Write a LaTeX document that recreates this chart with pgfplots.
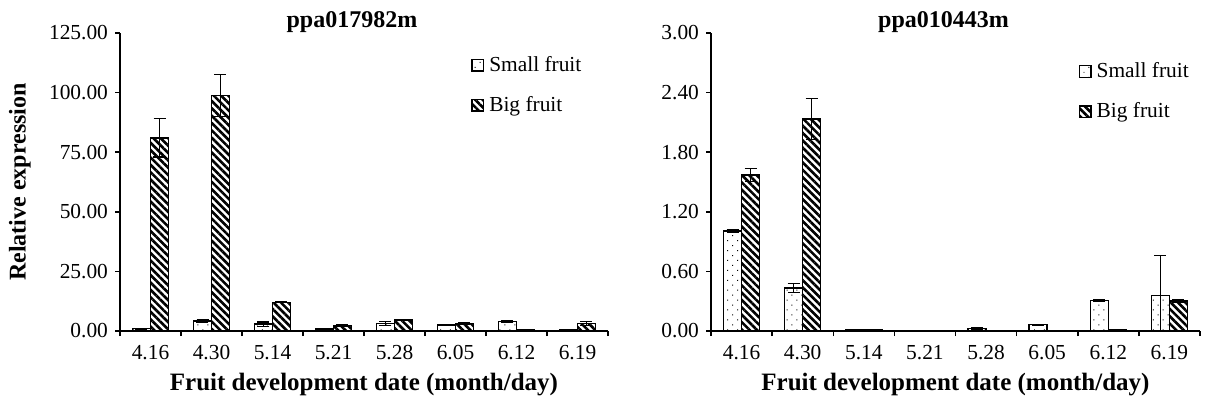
\documentclass[border=0pt]{standalone}
\usepackage{fontspec}
\setmainfont{Liberation Serif}
\usepackage{pgfplots}
\usepackage{pgfplotstable}
\pgfplotsset{compat=1.18}
\usetikzlibrary{patterns.meta}

\pgfplotstableread{
x small smallerr big bigerr
0 1.0 0.2 81.0 8.0
1 4.2 0.5 98.8 8.8
2 2.9 0.85 12.0 0.2
3 0.8 0.2 2.4 0.3
4 3.1 0.85 4.6 0.3
5 2.6 0.2 3.1 0.4
6 4.0 0.4 0.4 0.1
7 0.4 0.1 3.2 0.85
}\leftdata

\pgfplotstableread{
x small smallerr big bigerr
0 1.006 0.01 1.571 0.065
1 0.434 0.047 2.133 0.205
2 0.012 0.002 0.012 0.002
3 0.003 0.001 0.003 0.001
4 0.025 0.005 0.003 0.001
5 0.064 0.005 0.003 0.001
6 0.306 0.01 0.013 0.003
7 0.357 0.40 0.300 0.015
}\rightdata

\pgfplotsset{
  myaxis/.style={
    scale only axis, height=149pt,
    axis lines*=left,
    xmin=-0.5, xmax=7.5, ymin=0,
    xtick={0,...,7},
    xticklabels={4.16,4.30,5.14,5.21,5.28,6.05,6.12,6.19},
    major x tick style={draw=none},
    minor xtick={-0.5,0.5,...,7.5},
    tick align=outside,
    major tick length=2.5pt, minor tick length=2.5pt,
    every tick/.style={black, line width=0.75pt},
    axis line style={black, line width=0.75pt},
    /pgf/number format/assume math mode=true,
    yticklabel style={/pgf/number format/.cd, fixed, fixed zerofill, precision=2},
    xticklabel style={yshift=-1.2pt},
    tick label style={font=\fontsize{10.7}{12}\selectfont},
    ybar=0pt, bar width=9pt,
    every axis title/.style={at={(axis description cs:0.5,1)}, anchor=base, yshift=3pt, xshift=-6pt, font=\bfseries\fontsize{12}{14}\selectfont},
    xlabel={Fruit development date (month/day)},
    xlabel style={at={(axis description cs:0.5,-0.181)}, anchor=center, font=\bfseries\fontsize{12.5}{14}\selectfont},
    legend image code/.code={\draw[#1, line width=0.7pt] (0pt,-2.9pt) rectangle (5.8pt,2.9pt);},
    legend cell align=left,
    error bars/error bar style={black, line width=0.6pt},
    error bars/error mark options={black, line width=0.6pt, mark size=3pt, rotate=90},
  },
  smallbar/.style={draw=black, line width=0.75pt, pattern={Dots[distance=3.5pt, angle=45, radius=0.35pt]},
    error bars/.cd, y dir=both, y explicit},
  bigbar/.style={draw=black, line width=0.75pt, pattern={Lines[angle=-45, distance=2.6pt, line width=1.3pt]},
    error bars/.cd, y dir=both, y explicit},
}

\begin{document}
\begin{tikzpicture}
\useasboundingbox (0,0) rectangle (602.5pt,202pt);
\begin{axis}[myaxis,
  at={(60pt,36.5pt)}, anchor=south west, width=244pt,
  ymax=125, ytick={0,25,50,75,100,125},
  title={ppa017982m},
  ylabel={Relative expression},
  ylabel style={at={(axis description cs:-0.205,0.5)}, anchor=center, font=\bfseries\fontsize{12}{14}\selectfont},
  legend style={draw=none, fill=none, at={(rel axis cs:0.719,0.93)}, anchor=north west, inner sep=0pt, row sep=9pt, column sep=1.5pt, font=\fontsize{10.7}{12}\selectfont, nodes={inner sep=1pt}},
]
\addplot[smallbar] table[x=x, y=small, y error=smallerr] {\leftdata};
\addplot[bigbar] table[x=x, y=big, y error=bigerr] {\leftdata};
\legend{Small fruit, Big fruit}
\end{axis}
\begin{axis}[myaxis,
  at={(355.5pt,36.5pt)}, anchor=south west, width=244.5pt,
  ymax=3, ytick={0,0.6,1.2,1.8,2.4,3},
  title={ppa010443m},
  legend style={draw=none, fill=none, at={(rel axis cs:0.751,0.909)}, anchor=north west, inner sep=0pt, row sep=9pt, column sep=1.5pt, font=\fontsize{10.7}{12}\selectfont, nodes={inner sep=1pt}},
]
\addplot[smallbar] table[x=x, y=small, y error=smallerr] {\rightdata};
\addplot[bigbar] table[x=x, y=big, y error=bigerr] {\rightdata};
\legend{Small fruit, Big fruit}
\end{axis}
\end{tikzpicture}
\end{document}
